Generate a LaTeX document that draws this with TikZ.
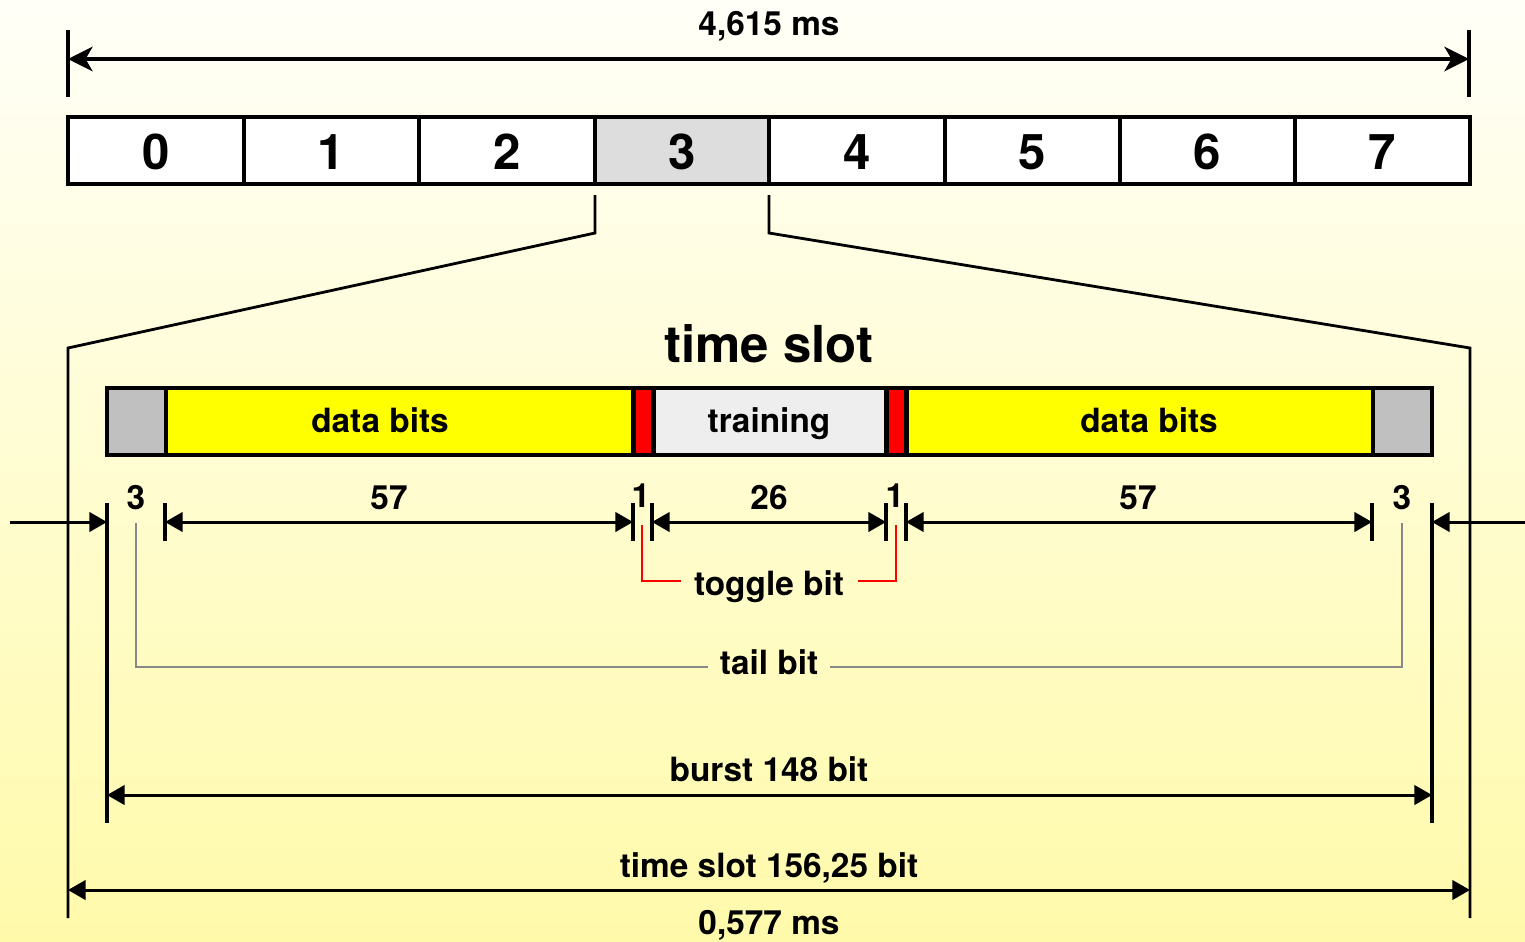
\documentclass[tikz,border=0pt]{standalone}
\usepackage{fontspec}
\setmainfont{TeX Gyre Heros}
\usetikzlibrary{arrows.meta}
\definecolor{bgtop}{HTML}{FFFFF8}
\definecolor{bgbot}{HTML}{FFFAAA}
\definecolor{slotgray}{HTML}{DDDDDD}
\definecolor{tailgray}{HTML}{C0C0C0}
\definecolor{traingray}{HTML}{EEEEEE}
\definecolor{databits}{HTML}{FFFF00}
\definecolor{togglered}{HTML}{FF0000}
\definecolor{leadgray}{HTML}{888888}
\tikzset{
  lbl/.style={font=\bfseries\fontsize{19}{19}\selectfont, inner sep=0pt, anchor=base},
  biglbl/.style={font=\bfseries\fontsize{29}{29}\selectfont, inner sep=0pt, anchor=base},
  digit/.style={font=\bfseries\fontsize{28}{28}\selectfont, inner sep=0pt, anchor=base},
  dimline/.style={line width=1.7pt, {Triangle[length=10pt,width=11pt]}-{Triangle[length=10pt,width=11pt]}},
  dimin/.style={line width=1.7pt, -{Triangle[length=10pt,width=11pt]}},
  topdim/.style={line width=2pt, {Stealth[length=14pt,width=14pt,inset=4pt]}-{Stealth[length=14pt,width=14pt,inset=4pt]}},
  tick/.style={line width=2.3pt},
  outer/.style={line width=1.6pt},
  cellbox/.style={line width=2.3pt, draw=black},
  seg/.style={line width=2.8pt, draw=black},
  redlead/.style={draw=togglered, line width=1.2pt},
  graylead/.style={draw=leadgray, line width=1.2pt},
}
\begin{document}
\begin{tikzpicture}[x=0.02cm,y=-0.02cm]
\shade[top color=bgtop, bottom color=bgbot] (0,0) rectangle (1525,941);
\useasboundingbox (0,0) rectangle (1525,941);

% ---- frame total
\coordinate (fL) at (68,59);
\coordinate (fR) at (1469,59);
\draw[tick] (68,30) -- (68,97);
\draw[tick] (1469,30) -- (1469,97);
\draw[topdim] (fL) -- (fR);
\node[lbl] (frame) at (769,35) {4,615 ms};

% ---- slots
\foreach \i/\xa/\xb in {0/68/244,1/244/419,2/419/595,3/595/769,4/769/945,5/945/1120,6/1120/1295,7/1295/1470}{
  \ifnum\i=3
    \draw[cellbox, fill=slotgray] (\xa,117) rectangle (\xb,184);
  \else
    \draw[cellbox, fill=white] (\xa,117) rectangle (\xb,184);
  \fi
  \node[digit] (slot\i) at ({(\xa+\xb)/2},169) {\i};
}

% ---- zoom lines
\coordinate (zl0) at (595,195);
\coordinate (zl1) at (595,233);
\coordinate (zl2) at (68,348);
\coordinate (zl3) at (68,918);
\coordinate (zr0) at (769,195);
\coordinate (zr1) at (769,233);
\coordinate (zr2) at (1470,348);
\coordinate (zr3) at (1470,918);
\draw[outer] (zl0) -- (zl1) -- (zl2) -- (zl3);
\draw[outer] (zr0) -- (zr1) -- (zr2) -- (zr3);

\node[biglbl] (ts) at (769,362) {time slot};

% ---- burst bar
\fill[tailgray] (107,388) rectangle (166,455);
\fill[databits] (166,388) rectangle (633.5,455);
\fill[togglered] (633.5,388) rectangle (653.5,455);
\fill[traingray] (653.5,388) rectangle (886.5,455);
\fill[togglered] (886.5,388) rectangle (906.5,455);
\fill[databits] (906.5,388) rectangle (1373,455);
\fill[tailgray] (1373,388) rectangle (1432,455);
\foreach \x in {166,633.5,653.5,886.5,906.5,1373}{
  \draw[seg] (\x,388) -- (\x,455);
}
\draw[seg] (107,388) rectangle (1432,455);
\node[lbl] (d1) at (380,432) {data bits};
\node[lbl] (tr) at (769,432) {training};
\node[lbl] (d2) at (1149,432) {data bits};

% ---- dimension ticks
\draw[tick] (107,503) -- (107,823);
\draw[tick] (1432,503) -- (1432,823);
\foreach \x in {165,633,652,886,906,1372}{
  \draw[tick] (\x,503) -- (\x,541);
}
\coordinate (inL0) at (10,522);
\coordinate (inL1) at (107,522);
\coordinate (inR0) at (1525,522);
\coordinate (inR1) at (1432,522);
\draw[dimin] (inL0) -- (inL1);
\draw[dimin] (inR0) -- (inR1);
\coordinate (a57s) at (165,522);
\coordinate (a57e) at (633,522);
\coordinate (a26s) at (652,522);
\coordinate (a26e) at (886,522);
\coordinate (b57s) at (906,522);
\coordinate (b57e) at (1372,522);
\draw[dimline] (a57s) -- (a57e);
\draw[dimline] (a26s) -- (a26e);
\draw[dimline] (b57s) -- (b57e);

\node[lbl] (n3a) at (136,509) {3};
\node[lbl] (n57a) at (389,509) {57};
\node[lbl] (n1a) at (641,507) {1};
\node[lbl] (n26) at (769,509) {26};
\node[lbl] (n1b) at (895,507) {1};
\node[lbl] (n57b) at (1138,509) {57};
\node[lbl] (n3b) at (1402,509) {3};

% ---- toggle bit
\node[lbl] (tog) at (769,595) {toggle bit};
\coordinate (tgL0) at (642,525);
\coordinate (tgL1) at (681,581);
\coordinate (tgR0) at (896,525);
\coordinate (tgR1) at (858,581);
\draw[redlead] (tgL0) |- (tgL1);
\draw[redlead] (tgR0) |- (tgR1);

% ---- tail bit
\node[lbl] (tail) at (769,674) {tail bit};
\coordinate (tlL0) at (136,523);
\coordinate (tlL1) at (708,667);
\coordinate (tlR0) at (1402,523);
\coordinate (tlR1) at (830,667);
\draw[graylead] (tlL0) |- (tlL1);
\draw[graylead] (tlR0) |- (tlR1);

% ---- burst
\node[lbl] (burst) at (769,781) {burst 148 bit};
\coordinate (bs) at (107,795);
\coordinate (be) at (1432,795);
\draw[dimline] (bs) -- (be);

% ---- time slot
\node[lbl] (tsb) at (769,877) {time slot 156,25 bit};
\coordinate (ss) at (68,890);
\coordinate (se) at (1470,890);
\draw[dimline] (ss) -- (se);
\node[lbl] (tms) at (769,934) {0,577 ms};
\end{tikzpicture}
\end{document}
